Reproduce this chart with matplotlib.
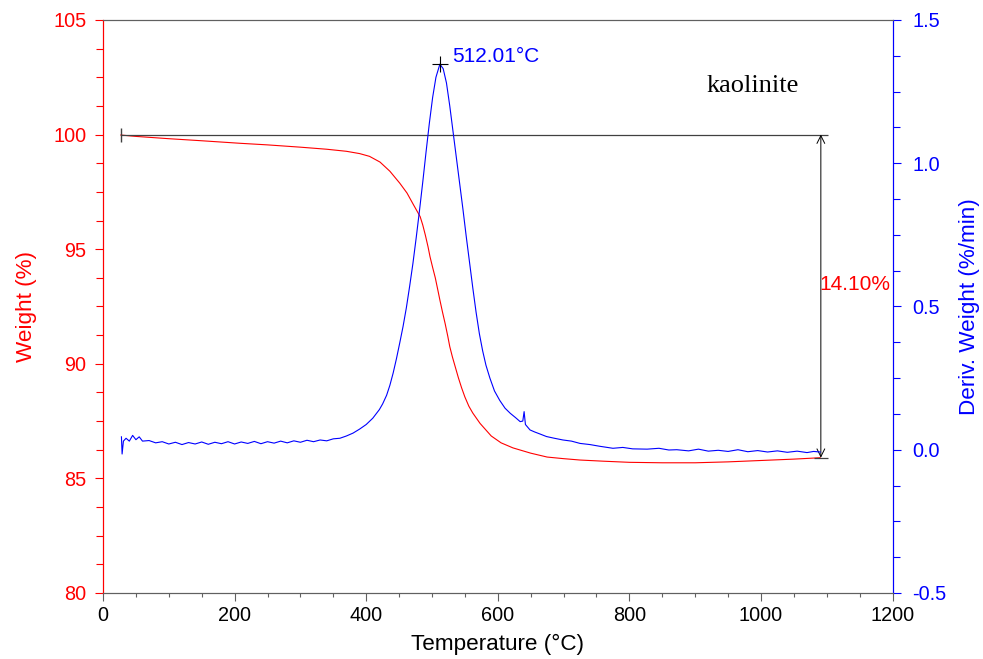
import numpy as np
import matplotlib.pyplot as plt

plt.rcParams['font.family'] = ['Liberation Sans', 'DejaVu Sans']

# weight curve (%)
T_w = [27, 50, 100, 150, 208, 250, 300, 340, 370, 390, 405, 421, 436, 451, 462,
       472, 482, 486, 490, 494, 497, 501, 505, 509, 512, 516, 520, 524, 527, 531,
       535, 540, 545, 550, 556, 562, 573, 590, 605, 623, 650, 675, 700, 725, 760,
       800, 850, 900, 950, 1000, 1050, 1090]
weight = [99.98, 99.92, 99.82, 99.73, 99.62, 99.55, 99.45, 99.36, 99.27, 99.17, 99.05,
          98.80, 98.40, 97.88, 97.45, 96.93, 96.42, 96.05, 95.60, 95.10, 94.67, 94.20,
          93.75, 93.20, 92.78, 92.25, 91.75, 91.20, 90.75, 90.30, 89.90, 89.40, 88.95,
          88.55, 88.15, 87.85, 87.40, 86.85, 86.55, 86.33, 86.10, 85.93, 85.86, 85.80,
          85.75, 85.70, 85.68, 85.68, 85.72, 85.78, 85.84, 85.90]

# derivative weight curve (%/min)
T_d = [28, 29, 31, 35, 40, 45, 50, 55, 60, 70, 80, 90, 100, 110, 120, 130, 140, 150,
       160, 170, 180, 190, 200, 210, 220, 230, 240, 250, 260, 270, 280, 290, 300, 310,
       320, 330, 340, 350, 360, 370, 380, 390, 400, 410, 420, 425, 431, 436, 441, 446,
       451, 456, 461, 466, 471, 476, 481, 486, 491, 496, 501, 506, 512, 517, 522, 527,
       532, 537, 542, 547, 552, 557, 562, 567, 572, 577, 582, 588, 595, 603, 611, 619,
       627, 634, 638, 640, 642, 649, 656, 664, 674, 686, 699, 712, 725, 740, 755, 775,
       790, 805, 827, 845, 860, 872, 890, 905, 920, 935, 950, 965, 980, 995, 1010,
       1025, 1040, 1055, 1070, 1080, 1090]
deriv = [0.045, -0.015, 0.030, 0.040, 0.030, 0.050, 0.035, 0.045, 0.030, 0.032, 0.024,
         0.028, 0.020, 0.026, 0.018, 0.025, 0.020, 0.027, 0.019, 0.026, 0.021, 0.028,
         0.020, 0.027, 0.022, 0.029, 0.021, 0.028, 0.023, 0.030, 0.024, 0.031, 0.026,
         0.033, 0.028, 0.034, 0.031, 0.038, 0.040, 0.048, 0.058, 0.072, 0.088, 0.110,
         0.140, 0.160, 0.190, 0.225, 0.268, 0.318, 0.373, 0.430, 0.495, 0.570, 0.650,
         0.740, 0.835, 0.935, 1.040, 1.140, 1.230, 1.300, 1.346, 1.330, 1.280, 1.200,
         1.110, 1.020, 0.930, 0.840, 0.745, 0.655, 0.565, 0.480, 0.405, 0.345, 0.295,
         0.250, 0.205, 0.172, 0.145, 0.127, 0.112, 0.098, 0.100, 0.133, 0.088, 0.069,
         0.062, 0.055, 0.046, 0.040, 0.034, 0.030, 0.022, 0.018, 0.012, 0.005, 0.008,
         0.003, 0.002, 0.005, -0.001, 0.000, -0.004, 0.002, -0.005, -0.002, -0.006,
         0.000, -0.007, -0.003, -0.008, -0.004, -0.009, -0.005, -0.010, -0.006, -0.008]

peak_T, peak_D = 512.01, 1.346
loss = 14.10
w_start, w_end = 100.0, 85.9

fig = plt.figure(figsize=(9.83, 6.59), dpi=100)
ax = fig.add_axes([0.1048, 0.1002, 0.8032, 0.8695])
ax2 = ax.twinx()

ax.plot(T_w, weight, color='red', lw=0.8)
ax2.plot(T_d, deriv, color='blue', lw=0.8)

# step annotation
gray = '#404040'
ax.hlines(w_start, 27, 1102, color=gray, lw=0.9)
ax.hlines(w_end, 1080, 1102, color=gray, lw=0.9)
ax.plot([27], [w_start], marker='|', ms=10, color=gray, mew=1)
ax.annotate('', xy=(1091, w_end), xytext=(1091, w_start),
            arrowprops=dict(arrowstyle='<->', color='black', lw=0.7,
                            shrinkA=0, shrinkB=0, mutation_scale=14))
ax.text(1089, 93.44, '%.2f%%' % loss, color='red', fontsize=15, ha='left', va='center')

ax2.plot([peak_T], [peak_D], marker='+', ms=11, color='black', mew=0.8)
ax2.text(531, 1.371, '%.2f°C' % peak_T, color='blue', fontsize=15, ha='left', va='center')

ax.text(918, 101.87, 'kaolinite', family='Liberation Serif', fontsize=19,
        color='black', va='baseline')

ax.set_xlim(0, 1200)
ax.set_ylim(80, 105)
ax2.set_ylim(-0.5, 1.5)
ax.set_xticks(np.arange(0, 1201, 200))
ax.set_xticks(np.arange(0, 1201, 50), minor=True)
ax.set_yticks(np.arange(80, 106, 5))
ax.set_yticks(np.arange(80, 105.1, 1.25), minor=True)
ax2.set_yticks(np.arange(-0.5, 1.51, 0.5))
ax2.set_yticks(np.arange(-0.5, 1.51, 0.125), minor=True)
ax2.set_yticklabels(['-0.5', '0.0', '0.5', '1.0', '1.5'])

ax.tick_params(axis='x', which='major', length=5.5, width=0.8, color='#606060',
               labelsize=14.3, pad=4)
ax.tick_params(axis='x', which='minor', length=3, width=0.8, color='#606060')
ax.tick_params(axis='y', which='major', length=6, width=0.8, color='red',
               labelcolor='red', labelsize=14.3, pad=6)
ax.tick_params(axis='y', which='minor', length=5, width=0.8, color='red')
ax2.tick_params(axis='y', which='major', length=6, width=0.8, color='blue',
                labelcolor='blue', labelsize=14.3, pad=8)
ax2.tick_params(axis='y', which='minor', length=5, width=0.8, color='blue')

for a in (ax, ax2):
    a.spines['top'].set_color('#606060')
    a.spines['bottom'].set_color('#606060')
    for s in a.spines.values():
        s.set_linewidth(0.8)
ax.spines['left'].set_color('red')
ax2.spines['left'].set_color('red')
ax2.spines['right'].set_color('blue')
ax.spines['right'].set_color('blue')

ax.set_xlabel('Temperature (°C)', fontsize=16.2, labelpad=6)
ax.set_ylabel('Weight (%)', fontsize=16.2, color='red', labelpad=12)
ax2.set_ylabel('Deriv. Weight (%/min)', fontsize=16.2, color='blue', labelpad=9)

fig.savefig('out.png', dpi=100)
